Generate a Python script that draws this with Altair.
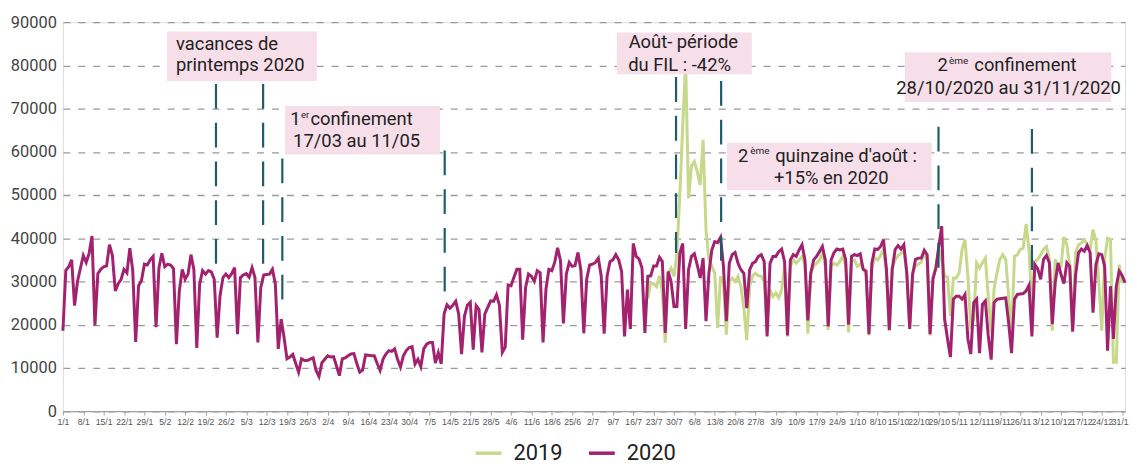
import altair as alt
import pandas as pd

# ---------------- data ----------------
days_2020 = list(range(366))
values_2020 = [
    18600, 32600, 33400, 35000, 24400, 30000, 33000,
    36000, 34400, 36500, 40500, 19800, 31800, 32800,
    33400, 33600, 38500, 36000, 27800, 29500, 30500,
    32800, 32000, 37700, 32500, 16000, 29000, 30200,
    34000, 33800, 35000, 35800, 19400, 33200, 36500,
    33400, 34000, 33800, 33000, 15500, 27800, 32800,
    30500, 31700, 36200, 32800, 14600, 29400, 32500,
    31700, 32500, 32200, 30500, 17000, 26700, 30900,
    31700, 30900, 31800, 33200, 17800, 30900, 31500,
    31800, 31000, 33200, 30900, 15900, 28600, 31500,
    31600, 31700, 32800, 29400, 14400, 21300, 17000,
    12100, 12500, 13100, 11000, 9000, 12100, 11700,
    11700, 12000, 12300, 9400, 8000, 11200, 12000,
    12800, 12500, 12600, 10500, 8200, 12100, 12300,
    12800, 13200, 13300, 11000, 9000, 9500, 13000,
    12900, 12800, 12800, 11000, 9400, 12000, 13200,
    14000, 13800, 14400, 12000, 10200, 12800, 14000,
    14700, 14900, 10900, 12000, 10300, 14400, 15500,
    15900, 15900, 11100, 13500, 10900, 22500, 24600,
    23800, 24500, 25400, 22500, 13200, 22000, 24500,
    25200, 14200, 24400, 23500, 13600, 22500, 24000,
    25500, 25400, 26900, 24500, 13600, 14800, 29200,
    29000, 31000, 32800, 32800, 16500, 28600, 31700,
    31200, 30000, 32500, 32000, 15900, 28200, 32800,
    32500, 34400, 37800, 34800, 20300, 31700, 34400,
    33500, 33700, 36700, 32600, 18000, 30500, 33800,
    34000, 34400, 35400, 31200, 17900, 31200, 34600,
    35000, 36200, 35000, 32300, 17300, 28100, 19000,
    38800, 35800, 35200, 33100, 18100, 31200, 31300,
    33600, 33600, 35600, 34600, 18100, 32300, 30000,
    24200, 24200, 36500, 38800, 19000, 32700, 35800,
    36400, 33800, 30800, 35400, 20800, 31900, 37300,
    39200, 39000, 40200, 33500, 20800, 34200, 36200,
    36700, 34200, 32700, 31900, 23800, 32700, 34200,
    34600, 35800, 36200, 34600, 17300, 34200, 35800,
    35800, 36900, 37500, 34600, 17500, 35000, 36200,
    35800, 37300, 38500, 35000, 21000, 31900, 35000,
    35800, 36900, 38100, 35000, 19600, 35000, 36700,
    37500, 37300, 37500, 35000, 20000, 35800, 36200,
    36000, 36400, 32800, 32400, 17800, 34300, 37500,
    37400, 38100, 39700, 32800, 18800, 32800, 37400,
    38300, 37500, 38500, 32000, 19000, 31600, 35100,
    35400, 35400, 37200, 36200, 17800, 30600, 33100,
    38100, 42800, 21300, 16700, 12500, 25900, 26600,
    26600, 25900, 27000, 16700, 13200, 25100, 25900,
    13400, 24700, 25500, 17400, 11900, 25100, 25900,
    26000, 26100, 26200, 20500, 13400, 25900, 27000,
    27100, 27200, 27800, 29100, 17300, 33900, 32900,
    30500, 35100, 36000, 34300, 20100, 29700, 34300,
    31600, 29500, 34300, 33500, 18400, 31400, 36600,
    37500, 37000, 38300, 36700, 22800, 33900, 36400,
    36200, 33500, 14000, 28900, 16700, 28900, 32400,
    31400, 29700,
]

days_2019 = list(range(201, 365))
values_2019 = [
    26000, 29600, 29500, 28800, 31300, 27300, 15800,
    31900, 33100, 31200, 36500, 50000, 66000, 81000,
    49200, 56700, 57700, 55400, 52300, 62800, 42000,
    35000, 33500, 31900, 19200, 31200, 29600, 17700,
    30000, 30800, 30000, 31200, 28800, 23800, 16400,
    28800, 31300, 31900, 31300, 31200, 30000, 18800,
    28100, 26500, 27300, 26200, 28100, 33500, 17200,
    33500, 35000, 34200, 35000, 35800, 34000, 17900,
    31900, 33500, 34200, 35000, 36500, 33500, 18800,
    33500, 34200, 33800, 34600, 35800, 33500, 18200,
    34600, 35000, 33500, 34000, 33000, 31500, 17500,
    33000, 35500, 35000, 36000, 37500, 32500, 18500,
    33000, 35000, 36000, 36500, 37000, 32000, 19500,
    32000, 33500, 34000, 34500, 36500, 35000, 17500,
    31000, 33500, 37500, 35000, 31200, 31000, 22000,
    30800, 30800, 32000, 37400, 39700, 31200, 19000,
    21300, 34300, 33100, 34300, 35400, 26600, 18200,
    28200, 32000, 35100, 36200, 35100, 26600, 17400,
    35800, 36200, 37400, 37700, 43300, 37400, 24000,
    34700, 35100, 36200, 37400, 38100, 35100, 18600,
    35100, 33500, 33500, 40300, 38500, 33500, 18600,
    36600, 38500, 38900, 39700, 38500, 37400, 42000,
    39300, 29700, 18600, 35100, 40000, 39700, 11300,
    11300, 33900, 29700,
]

series_names = ["2019", "2020"]
series_colors = ["#C6D98B", "#A2226F"]

tick_labels = ["1/1", "8/1", "15/1", "22/1", "29/1", "5/2", "12/2", "19/2", "26/2",
               "5/3", "12/3", "19/3", "26/3", "2/4", "9/4", "16/4", "23/4", "30/4",
               "7/5", "14/5", "21/5", "28/5", "4/6", "11/6", "18/6", "25/6", "2/7",
               "9/7", "16/7", "23/7", "30/7", "6/8", "13/8", "20/8", "27/8", "3/9",
               "10/9", "17/9", "24/9", "1/10", "8/10", "15/10", "22/10", "29/10",
               "5/11", "12/11", "19/11", "26/11", "3/12", "10/12", "17/12", "24/12",
               "31/12"]
tick_days = [7 * i for i in range(len(tick_labels))]
y_ticks = list(range(0, 90001, 10000))

# event markers (dashed lines): day index, top value, bottom value
marker_days = [52.6, 68.8, 75.4, 131.2, 210.7, 226.2, 300.9, 333.0]
marker_tops = [75700, 75700, 58450, 60300, 77300, 76400, 65800, 65300]
marker_bottoms = [32250, 32250, 23500, 25800, 36600, 33600, 31100, 30400]

# ---------------- layout constants ----------------
OX, OY = 63.3, 20.7          # plot origin on the page
W, H = 1069.5, 391.6
FONT = "Roboto"
PINK = "#F7DFEA"
TEAL = "#1F5B6B"
TXT = "#222222"

rows = []
for d, v in zip(days_2019, values_2019):
    rows.append({"day": d, "series": "2019", "value": v})
for d, v in zip(days_2020, values_2020):
    rows.append({"day": d, "series": "2020", "value": v})
df = pd.DataFrame(rows)

markers = pd.DataFrame({"day": marker_days, "top": marker_tops, "bottom": marker_bottoms})

label_expr = "[" + ",".join("'%s'" % t for t in tick_labels) + "][round(datum.value / 7)]"

x_scale = alt.Scale(domain=[0, 365], nice=False, zero=False)
y_scale = alt.Scale(domain=[0, 90000], nice=False)

x_axis = alt.Axis(values=tick_days, labelExpr=label_expr, labelFontSize=8.7,
                  labelFont="Liberation Sans", title=None,
                  labelColor="#555555", tickColor="#a0a0a0", tickSize=4,
                  domainColor="#a0a0a0", domainWidth=1.2, grid=False,
                  labelOverlap=False, labelSeparation=0, labelPadding=3,
                  labelFlush=False, zindex=1)
y_axis = alt.Axis(values=y_ticks, format="d", labelFontSize=16.5, labelFont=FONT,
                  labelColor="#444444", ticks=False, domain=False, title=None,
                  gridDash=[7, 8], gridColor="#9a9a9a", gridWidth=1.3,
                  labelPadding=6.6)

lines = alt.Chart(df).mark_line(strokeWidth=3).encode(
    x=alt.X("day:Q", scale=x_scale, axis=x_axis),
    y=alt.Y("value:Q", scale=y_scale, axis=y_axis),
    color=alt.Color("series:N",
                    scale=alt.Scale(domain=series_names, range=series_colors),
                    legend=alt.Legend(title=None, orient="none", legendX=413.7, legendY=419,
                                      direction="horizontal", symbolType="stroke",
                                      symbolSize=676, symbolStrokeWidth=3.5,
                                      labelFontSize=22, labelFont=FONT, labelColor=TXT,
                                      labelOffset=10, columnPadding=19, padding=0)),
)

rules = alt.Chart(markers).mark_rule(color=TEAL, strokeWidth=2.2, strokeDash=[25, 14]).encode(
    x=alt.X("day:Q", scale=x_scale, axis=x_axis),
    y=alt.Y("top:Q", scale=y_scale, axis=y_axis),
    y2="bottom:Q",
)

one = alt.Data(values=[{"k": 0}])


def box(x0, x1, y0, y1):
    return alt.Chart(one).mark_rect(color=PINK).encode(
        x=alt.value(x0 - OX), x2=alt.value(x1 - OX),
        y=alt.value(y0 - OY), y2=alt.value(y1 - OY))


def label(txt, px, py, size=18.5, align="left"):
    return alt.Chart(one).mark_text(text=txt, align=align, baseline="alphabetic",
                                    fontSize=size, font=FONT, color=TXT).encode(
        x=alt.value(px - OX), y=alt.value(py - OY))


boxes = [
    box(168, 319, 30, 80),
    box(287, 443, 105, 154),
    box(621, 757, 31, 73),
    box(732, 938, 142, 190),
    box(911, 1119, 51, 101),
]

texts = [
    label("vacances de", 177.2, 48.3),
    label("printemps 2020", 177.2, 70),
    label("1", 302.5, 124, align="right"),
    label("er", 303, 116.7, size=9.5),
    label("confinement", 312.5, 124),
    label("17/03 au 11/05", 359, 146.7, align="center"),
    label("Août- période", 633, 46.7),
    label("du FIL : -42%", 632.5, 70),
    label("2", 743, 161.7),
    label("ème", 755.5, 153.3, size=10),
    label("quinzaine d'août :", 780.5, 161.7),
    label("+15% en 2020", 837, 183.3, align="center"),
    label("2", 944, 70),
    label("ème", 955.5, 62.7, size=10),
    label("confinement", 981, 70),
    label("28/10/2020 au 31/11/2020", 1015.5, 93.3, align="center"),
]

chart = alt.layer(lines, rules, *boxes, *texts).properties(
    width=W, height=H,
    padding={"left": OX - 8, "top": OY - 8, "right": 4, "bottom": 53},
    autosize=alt.AutoSizeParams(type="none"),
    background="white",
).configure_view(stroke=None).configure(font=FONT).configure_axisX(labelOverlap=False)

chart.save("out.html", embed_options={"renderer": "svg", "actions": False})
